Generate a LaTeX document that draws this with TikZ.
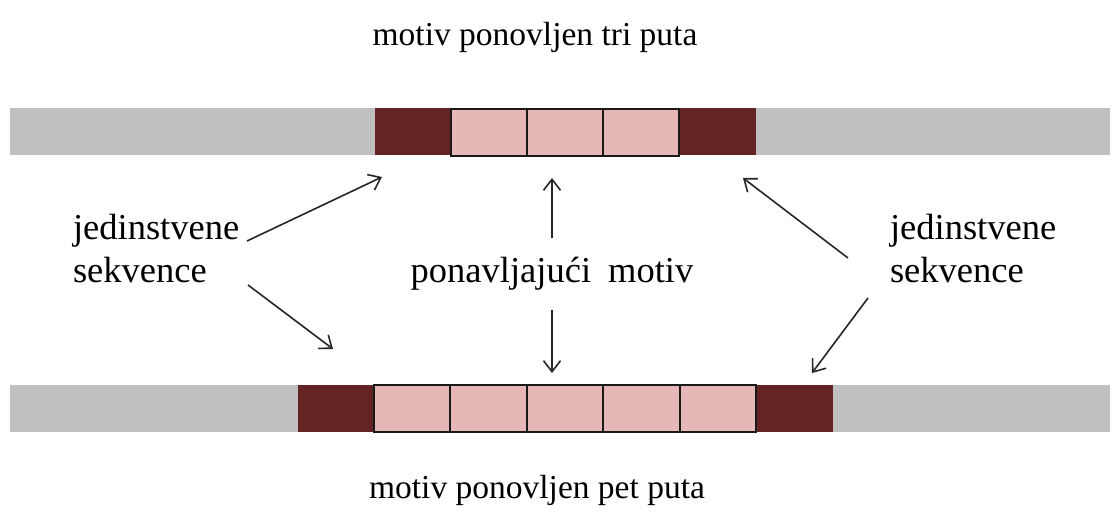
\documentclass[tikz,border=0pt]{standalone}
\usepackage{fontspec}
\setmainfont{Liberation Serif}
\usetikzlibrary{arrows.meta}
\definecolor{barGray}{HTML}{C0C0C0}
\definecolor{flankRed}{HTML}{632423}
\definecolor{motifPink}{HTML}{E5B8B7}
\begin{document}
\begin{tikzpicture}[x=1pt,y=-1pt,
  lbl/.style={font=\fontsize{33.5}{40}\selectfont, inner sep=0pt, outer sep=0pt},
  sidelbl/.style={font=\fontsize{36.5}{42}\selectfont, inner sep=0pt, outer sep=0pt},
  band/.style={fill=barGray, draw=none, inner sep=0pt, minimum width=1100pt, minimum height=47pt},
  flank/.style={fill=flankRed, draw=none, inner sep=0pt, minimum width=77pt, minimum height=47pt},
  motif/.style={fill=motifPink, draw=black!90, line width=1.8pt, inner sep=0pt, minimum width=76.5pt, minimum height=47pt},
  pointer/.style={draw=black!85, line width=1.6pt, -{Straight Barb[length=11pt,width=17pt,line width=1.6pt]}}
]
\useasboundingbox (0,0) rectangle (1112,516);
\fill[white] (0,0) rectangle (1112,516);

% top strand
\node[band] (topBand) at (560,131.5) {};
\node[flank] (topL) at (413,131.5) {};
\node[flank] (topR) at (717,131.5) {};
\node[motif] (t1) at (489,132.5) {};
\node[motif] (t2) at (565,132.5) {};
\node[motif] (t3) at (641,132.5) {};

% bottom strand
\node[band] (botBand) at (560,408) {};
\node[flank] (botL) at (336.5,408) {};
\node[flank] (botR) at (794.5,408) {};
\node[motif] (b1) at (412,408.5) {};
\node[motif] (b2) at (488.5,408.5) {};
\node[motif] (b3) at (565,408.5) {};
\node[motif] (b4) at (641.5,408.5) {};
\node[motif] (b5) at (718,408.5) {};

% texts
\node[lbl, anchor=base] (topTitle) at (535,46) {motiv ponovljen tri puta};
\node[lbl, anchor=base] (botTitle) at (537,498) {motiv ponovljen pet puta};
\node[sidelbl, anchor=base west] (lU) at (73,240) {jedinstvene};
\node[sidelbl, anchor=base west] (lS) at (73,282) {sekvence};
\node[sidelbl, anchor=base west] (rU) at (890,240) {jedinstvene};
\node[sidelbl, anchor=base west] (rS) at (890,282) {sekvence};
\node[sidelbl, anchor=base] (mid) at (552,282) {ponavljajući\hspace{17pt}motiv};

% arrow end points
\coordinate (aLUs) at (247,241);
\coordinate (aLUe) at (382,177);
\coordinate (aLDs) at (248,285);
\coordinate (aLDe) at (333,349);
\coordinate (aRUs) at (848,258);
\coordinate (aRUe) at (743,178);
\coordinate (aRDs) at (868,298);
\coordinate (aRDe) at (812,373);
\coordinate (aMUs) at (552,238);
\coordinate (aMUe) at (552,178);
\coordinate (aMDs) at (552,310);
\coordinate (aMDe) at (552,373);

\draw[pointer] (aLUs) -- (aLUe);
\draw[pointer] (aLDs) -- (aLDe);
\draw[pointer] (aRUs) -- (aRUe);
\draw[pointer] (aRDs) -- (aRDe);
\draw[pointer] (aMUs) -- (aMUe);
\draw[pointer] (aMDs) -- (aMDe);
\end{tikzpicture}
\end{document}
